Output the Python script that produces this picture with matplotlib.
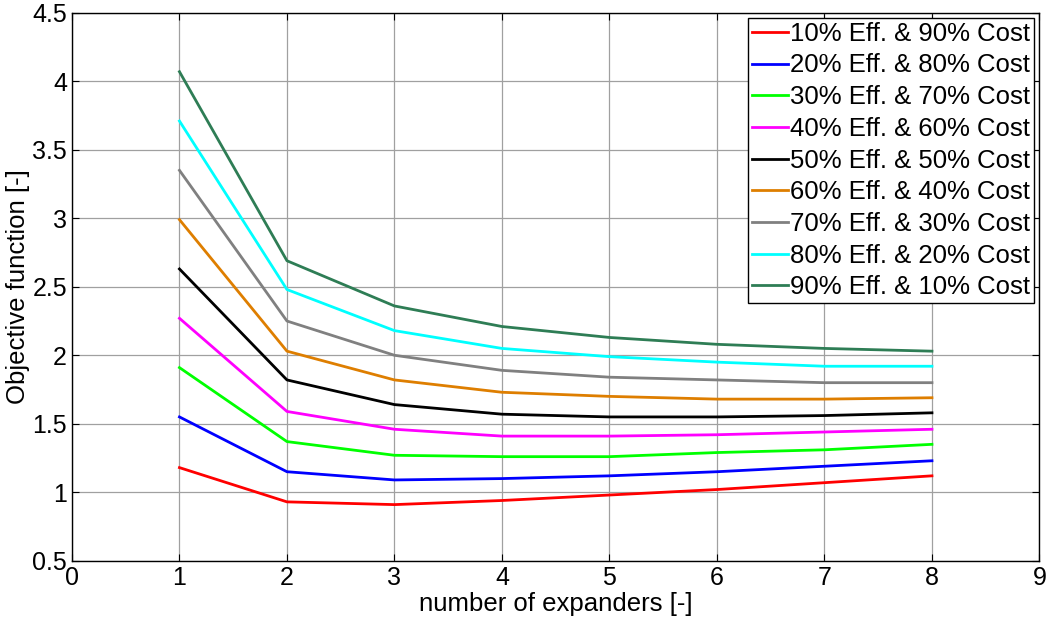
import matplotlib.pyplot as plt

expanders = [1, 2, 3, 4, 5, 6, 7, 8]

eff10 = [1.18, 0.93, 0.91, 0.94, 0.98, 1.02, 1.07, 1.12]
eff20 = [1.55, 1.15, 1.09, 1.10, 1.12, 1.15, 1.19, 1.23]
eff30 = [1.91, 1.37, 1.27, 1.26, 1.26, 1.29, 1.31, 1.35]
eff40 = [2.27, 1.59, 1.46, 1.41, 1.41, 1.42, 1.44, 1.46]
eff50 = [2.63, 1.82, 1.64, 1.57, 1.55, 1.55, 1.56, 1.58]
eff60 = [2.99, 2.03, 1.82, 1.73, 1.70, 1.68, 1.68, 1.69]
eff70 = [3.35, 2.25, 2.00, 1.89, 1.84, 1.82, 1.80, 1.80]
eff80 = [3.71, 2.48, 2.18, 2.05, 1.99, 1.95, 1.92, 1.92]
eff90 = [4.07, 2.69, 2.36, 2.21, 2.13, 2.08, 2.05, 2.03]

series = [eff10, eff20, eff30, eff40, eff50, eff60, eff70, eff80, eff90]
labels = ["10% Eff. & 90% Cost", "20% Eff. & 80% Cost",
          "30% Eff. & 70% Cost", "40% Eff. & 60% Cost",
          "50% Eff. & 50% Cost", "60% Eff. & 40% Cost",
          "70% Eff. & 30% Cost", "80% Eff. & 20% Cost",
          "90% Eff. & 10% Cost"]
colors = ["#ff0000", "#0000ff", "#00ff00", "#ff00ff", "#000000",
          "#de7e00", "#808080", "#00ffff", "#2e7d55"]

x_ticks = [0, 1, 2, 3, 4, 5, 6, 7, 8, 9]
y_ticks = [0.5, 1, 1.5, 2, 2.5, 3, 3.5, 4, 4.5]

plt.rcParams["font.family"] = ["Liberation Sans", "DejaVu Sans"]

fig = plt.figure(figsize=(10.49, 6.18), dpi=100)
ax = fig.add_axes([0.0686, 0.0926, 0.9223, 0.8867])

for vals, lab, col in zip(series, labels, colors):
    ax.plot(expanders, vals, color=col, linewidth=2.0, label=lab)

ax.set_xlim(0, 9)
ax.set_ylim(0.5, 4.5)
ax.set_xticks(x_ticks)
ax.set_yticks(y_ticks)
ax.set_xticklabels([str(t) for t in x_ticks])
ax.set_yticklabels(["0.5", "1", "1.5", "2", "2.5", "3", "3.5", "4", "4.5"])
ax.tick_params(direction="in", labelsize=18, length=5, top=True, right=True)
ax.grid(True, color="#a0a0a0", linewidth=0.9)
ax.set_axisbelow(True)
for sp in ax.spines.values():
    sp.set_linewidth(1.0)

ax.set_xlabel("number of expanders [-]", fontsize=18.5, labelpad=2)
ax.set_ylabel("Objective function [-]", fontsize=18.5, labelpad=2)

leg = ax.legend(loc="upper right", fontsize=18.5, fancybox=False,
                edgecolor="black", framealpha=1, handlelength=1.4,
                handletextpad=0.1, labelspacing=0.3, borderpad=0.15,
                borderaxespad=0.2)
leg.get_frame().set_linewidth(1.0)

fig.savefig("out.png", dpi=100)
